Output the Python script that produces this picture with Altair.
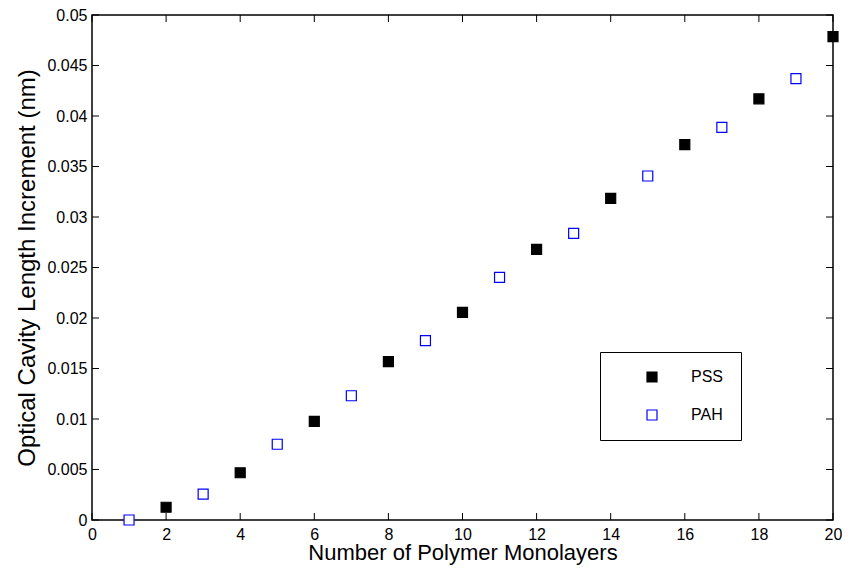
import altair as alt
import pandas as pd

pss_x = [2, 4, 6, 8, 10, 12, 14, 16, 18, 20]
pss_y = [0.00126, 0.00468, 0.00977, 0.01568, 0.02056, 0.0268, 0.03185, 0.03716, 0.0417, 0.04786]
pah_x = [1, 3, 5, 7, 9, 11, 13, 15, 17, 19]
pah_y = [0.0, 0.00257, 0.0075, 0.0123, 0.01776, 0.02403, 0.02838, 0.03406, 0.03888, 0.0437]
x_ticks = [0, 2, 4, 6, 8, 10, 12, 14, 16, 18, 20]
y_ticks = [0, 0.005, 0.01, 0.015, 0.02, 0.025, 0.03, 0.035, 0.04, 0.045, 0.05]

W, H = 741, 505
FONT = "Liberation Sans"

df = pd.DataFrame({
    "x": pss_x + pah_x,
    "y": pss_y + pah_y,
    "series": ["PSS"] * len(pss_x) + ["PAH"] * len(pah_x),
})
xt = pd.DataFrame({"x": x_ticks})
yt = pd.DataFrame({"y": y_ticks})

xscale = alt.Scale(domain=[0, 20], nice=False)
yscale = alt.Scale(domain=[0, 0.05], nice=False)
xaxis = alt.Axis(values=x_ticks, tickSize=0, labelPadding=6, grid=False, labelFlush=False,
                 title="Number of Polymer Monolayers", titlePadding=0, titleFontSize=22)
yaxis = alt.Axis(values=y_ticks, tickSize=0, labelPadding=5, grid=False, format="~g", labelFlush=False,
                 title="Optical Cavity Length Increment (nm)", titlePadding=7, titleFontSize=24)

pad = "\u00a0" * 14
leg = alt.Legend(title=None, orient="none", legendX=508, legendY=337,
                 strokeColor="black", fillColor="white", padding=17,
                 symbolOffset=27, labelOffset=31, rowPadding=22,
                 symbolSize=100, symbolStrokeWidth=1.2,
                 labelExpr="datum.label + '" + pad + "'")

points = alt.Chart(df).mark_point(shape="square", size=100, strokeWidth=1.2, opacity=1, clip=False).encode(
    x=alt.X("x:Q", scale=xscale, axis=xaxis),
    y=alt.Y("y:Q", scale=yscale, axis=yaxis),
    stroke=alt.Stroke("series:N", scale=alt.Scale(domain=["PSS", "PAH"], range=["black", "#0000ff"]), legend=leg),
    fill=alt.Fill("series:N", scale=alt.Scale(domain=["PSS", "PAH"], range=["black", "white"]), legend=leg),
)

tk = 7
bottom = alt.Chart(xt).mark_rule(color="black", strokeWidth=1).encode(
    x=alt.X("x:Q", scale=xscale, axis=xaxis), y=alt.value(H), y2=alt.value(H - tk))
top = alt.Chart(xt).mark_rule(color="black", strokeWidth=1).encode(
    x=alt.X("x:Q", scale=xscale, axis=xaxis), y=alt.value(0), y2=alt.value(tk))
left = alt.Chart(yt).mark_rule(color="black", strokeWidth=1).encode(
    y=alt.Y("y:Q", scale=yscale, axis=yaxis), x=alt.value(0), x2=alt.value(tk))
right = alt.Chart(yt).mark_rule(color="black", strokeWidth=1).encode(
    y=alt.Y("y:Q", scale=yscale, axis=yaxis), x=alt.value(W), x2=alt.value(W - tk))

chart = alt.layer(points, bottom, top, left, right).properties(
    width=W, height=H,
    autosize=alt.AutoSizeParams(type="none"),
    padding={"left": 84, "top": 7, "right": 9, "bottom": 45},
).configure_view(stroke="black", strokeWidth=1.5).configure_axis(
    domain=False, labelFont=FONT, titleFont=FONT, labelFontSize=16,
    labelColor="black", titleColor="black", titleFontWeight="normal",
).configure_legend(labelFont=FONT, labelFontSize=16, labelColor="black")

chart.save("out.html", embed_options={"renderer": "svg", "actions": False})
